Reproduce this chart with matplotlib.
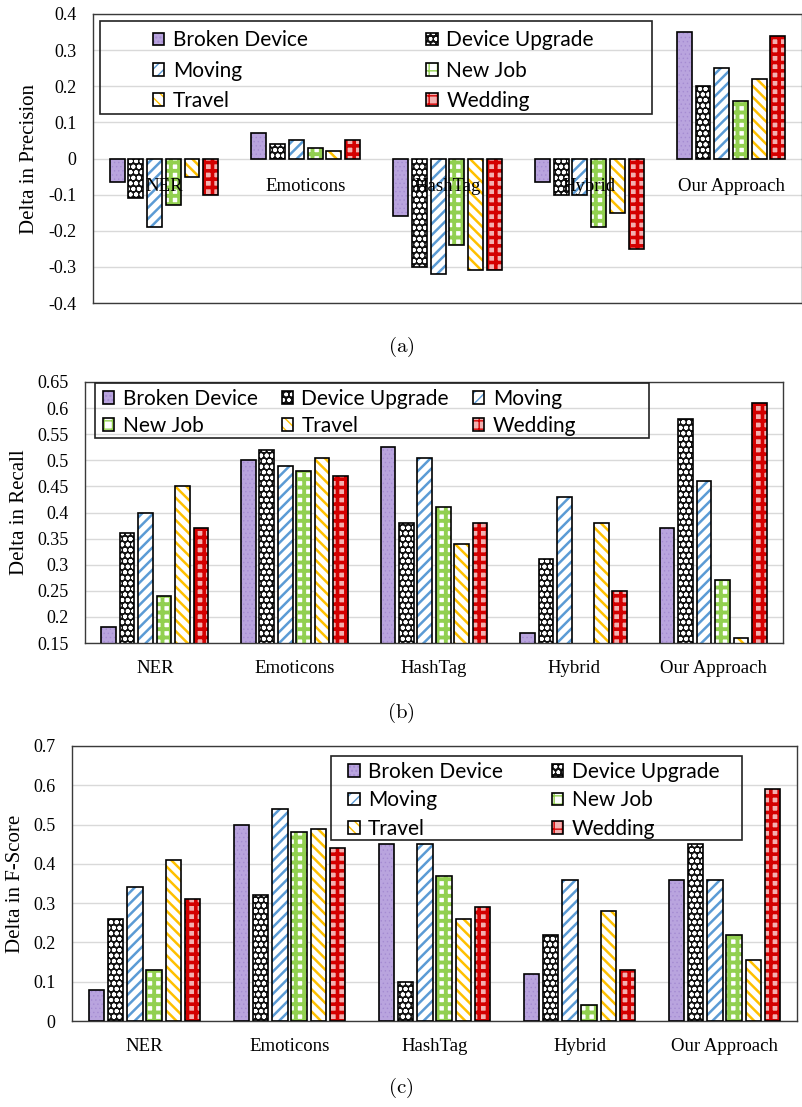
import matplotlib.pyplot as plt
import numpy as np
from matplotlib.patches import Rectangle

plt.rcParams['mathtext.fontset'] = 'cm'

categories = ['NER', 'Emoticons', 'HashTag', 'Hybrid', 'Our Approach']
events = ['Broken Device', 'Device Upgrade', 'Moving', 'New Job', 'Travel', 'Wedding']

# one row per event, one value per category
precision = [
    [-0.065, 0.07, -0.16, -0.065, 0.35],
    [-0.11, 0.04, -0.30, -0.10, 0.20],
    [-0.19, 0.05, -0.32, -0.10, 0.25],
    [-0.13, 0.03, -0.24, -0.19, 0.16],
    [-0.05, 0.02, -0.31, -0.15, 0.22],
    [-0.10, 0.05, -0.31, -0.25, 0.34],
]
recall = [
    [0.18, 0.50, 0.525, 0.17, 0.37],
    [0.36, 0.52, 0.38, 0.31, 0.58],
    [0.40, 0.49, 0.505, 0.43, 0.46],
    [0.24, 0.48, 0.41, 0.14, 0.27],
    [0.45, 0.505, 0.34, 0.38, 0.16],
    [0.37, 0.47, 0.38, 0.25, 0.61],
]
fscore = [
    [0.08, 0.50, 0.45, 0.12, 0.36],
    [0.26, 0.32, 0.10, 0.22, 0.45],
    [0.34, 0.54, 0.45, 0.36, 0.36],
    [0.13, 0.48, 0.37, 0.04, 0.22],
    [0.41, 0.49, 0.26, 0.28, 0.155],
    [0.31, 0.44, 0.29, 0.13, 0.59],
]

styles = [
    dict(face='#b9a4de', hc='#a58cd2', hatch='....', hlw=0.5),
    dict(face='#111111', hc='white', hatch='ooo', hlw=1.3),
    dict(face='white', hc='#5b9bd5', hatch='///', hlw=1.8),
    dict(face='white', hc='#92d050', hatch='++', hlw=2.8),
    dict(face='white', hc='#ffc000', hatch='\\\\\\', hlw=1.8),
    dict(face='#f3b0b0', hc='#d40000', hatch='++', hlw=2.6),
]

step = 0.132
width = 0.105
serif = 'Liberation Serif'


def draw_bars(ax, values):
    x = np.arange(len(categories))
    handles = []
    for i, vals in enumerate(values):
        st = styles[i]
        xs = x + (i - 2.5) * step
        with plt.rc_context({'hatch.linewidth': st['hlw']}):
            fill = ax.bar(xs, vals, width, facecolor=st['face'], edgecolor=st['hc'],
                          hatch=st['hatch'], linewidth=0, zorder=2)
        for p in fill:
            if hasattr(p, 'set_hatch_linewidth'):
                p.set_hatch_linewidth(st['hlw'])
        edge = ax.bar(xs, vals, width, fill=False, edgecolor='black', linewidth=1.2, zorder=3)
        handles.append((fill[0], edge[0]))
    return handles


def style_axes(ax, ticks, ylabel, label_x):
    ax.set_xlim(-0.5, len(categories) - 0.5)
    ax.set_ylim(ticks[0], ticks[-1])
    ax.set_yticks(ticks)
    ax.set_yticklabels([f'{t + 0.0:g}' for t in ticks], fontfamily=serif, fontsize=13)
    ax.tick_params(axis='y', length=0, pad=12)
    ax.grid(axis='y', color='#d9d9d9', linewidth=1)
    ax.set_axisbelow(True)
    for s in ax.spines.values():
        s.set_color('#3a3a3a')
        s.set_linewidth(1.0)
    ax.set_ylabel(ylabel, fontfamily=serif, fontsize=15, va='center')
    ax.yaxis.set_label_coords(label_x, 0.5)


def add_legend(ax, handles, order, ncol, anchor, rect, lspace, cspace):
    ax.add_patch(Rectangle((rect[0], rect[1]), rect[2] - rect[0], rect[3] - rect[1],
                           transform=ax.transAxes, fill=False, edgecolor='#222222',
                           linewidth=1.2, zorder=5))
    ax.legend([handles[k] for k in order], [events[k] for k in order], ncol=ncol,
              loc='upper left', bbox_to_anchor=anchor, frameon=False, borderpad=0,
              borderaxespad=0, handlelength=0.55, handleheight=0.55, handletextpad=0.4,
              labelspacing=lspace, columnspacing=cspace,
              prop={'family': 'Lato', 'size': 15})


fig = plt.figure(figsize=(8.03, 11.07), dpi=100)
W, H = 803, 1107


def px_axes(x0, x1, y0, y1):
    return fig.add_axes([x0 / W, 1 - y1 / H, (x1 - x0) / W, (y1 - y0) / H])


# (a) precision
ax1 = px_axes(93, 802, 14, 303)
h1 = draw_bars(ax1, precision)
style_axes(ax1, np.round(np.arange(-0.4, 0.41, 0.1), 1), 'Delta in Precision', -0.09)
ax1.set_xticks([])
for i, c in enumerate(categories):
    ax1.annotate(c, xy=(i, 0), xytext=(0, -20), textcoords='offset points', ha='center',
                 va='center', fontfamily=serif, fontsize=13.5, zorder=4)
add_legend(ax1, h1, [0, 2, 4, 1, 3, 5], 2, (0.0846, 0.944),
           (0.0099, 0.653, 0.788, 0.976), 0.5, 5.7)
fig.text(401 / W, 1 - 347 / H, r'$\mathrm{(a)}$', ha='center', va='center', fontsize=15)

# (b) recall
ax2 = px_axes(85, 783, 382, 643)
h2 = draw_bars(ax2, recall)
style_axes(ax2, np.round(np.arange(0.15, 0.651, 0.05), 2), 'Delta in Recall', -0.094)
ax2.set_xticks(np.arange(len(categories)), categories, fontfamily=serif, fontsize=13.5)
ax2.tick_params(axis='x', length=0, pad=12)
add_legend(ax2, h2, [0, 3, 1, 4, 2, 5], 3, (0.0258, 0.973),
           (0.0143, 0.785, 0.808, 0.996), 0.34, 1.15)
fig.text(401 / W, 1 - 713 / H, r'$\mathrm{(b)}$', ha='center', va='center', fontsize=15)

# (c) f-score
ax3 = px_axes(72, 797, 746, 1021)
h3 = draw_bars(ax3, fscore)
style_axes(ax3, np.round(np.arange(0, 0.71, 0.1), 1), 'Delta in F-Score', -0.078)
ax3.set_xticks(np.arange(len(categories)), categories, fontfamily=serif, fontsize=13.5)
ax3.tick_params(axis='x', length=0, pad=12)
add_legend(ax3, h3, [0, 2, 4, 1, 3, 5], 2, (0.381, 0.942),
           (0.357, 0.658, 0.924, 0.964), 0.4, 2.35)
fig.text(401 / W, 1 - 1088 / H, r'$\mathrm{(c)}$', ha='center', va='center', fontsize=15)

fig.savefig('out.png', dpi=100)
